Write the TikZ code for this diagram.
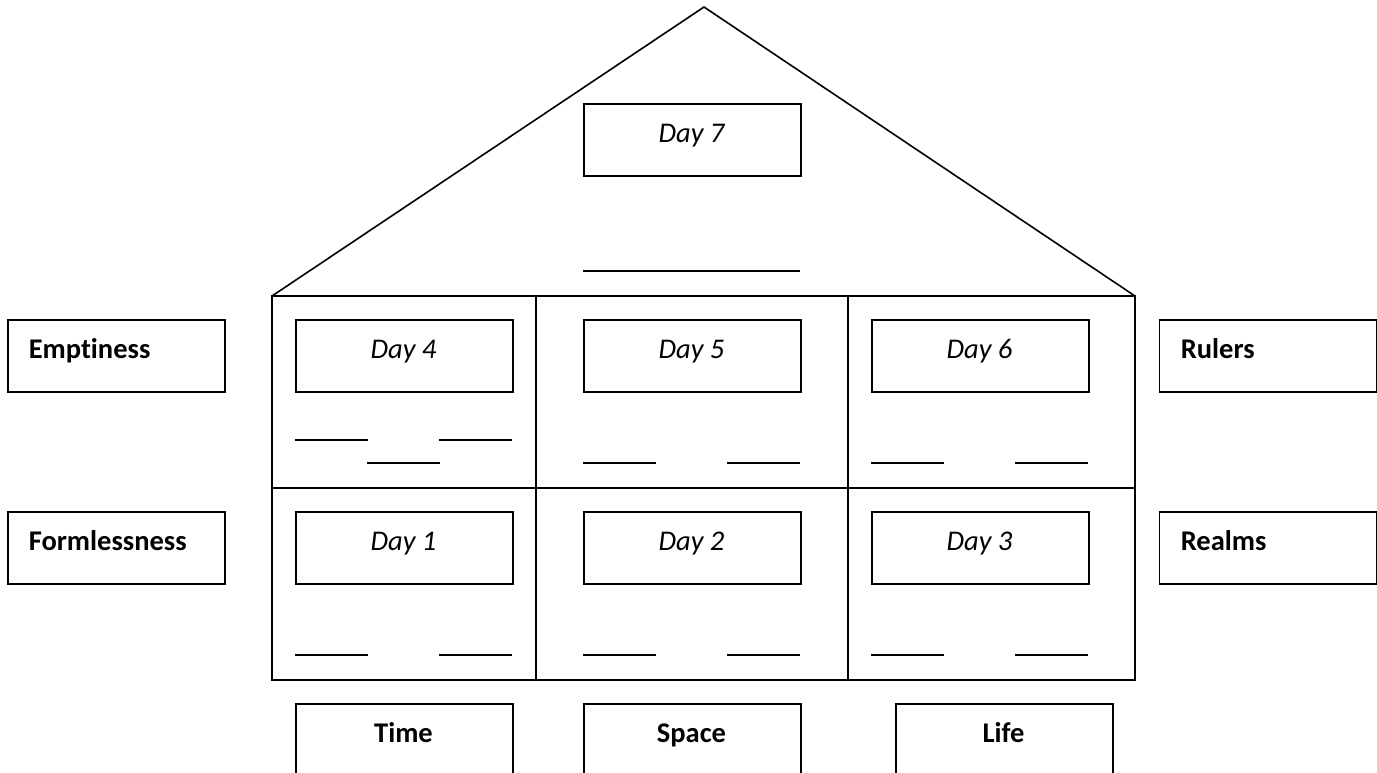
\documentclass[tikz,border=0pt]{standalone}
\usepackage{fontspec}
\setmainfont[Ligatures={NoCommon}]{Carlito}
\begin{document}
\begin{tikzpicture}[x=1pt,y=-1pt, line width=1.6pt,
  box/.style={draw, line width=1.6pt, minimum width=217pt, minimum height=72pt, inner sep=0pt, anchor=north west},
  daytext/.style={font=\fontsize{28.5}{34}\selectfont\itshape, anchor=base, inner sep=0pt},
  boldtext/.style={font=\fontsize{28.5}{34}\selectfont\bfseries, anchor=base, inner sep=0pt},
  sidetext/.style={font=\fontsize{28.5}{34}\selectfont\bfseries, anchor=base west, inner sep=0pt},
  blank/.style={line width=1.6pt}]
\clip (0,0) rectangle (1377,772);
% house
\coordinate (apex) at (704,7);
\coordinate (hl) at (272,296);
\coordinate (hr) at (1135,296);
\coordinate (br) at (1135,680);
\coordinate (ml) at (272,488);
\coordinate (mr) at (1135,488);
\coordinate (v1t) at (536,296);
\coordinate (v1b) at (536,680);
\coordinate (v2t) at (848,296);
\coordinate (v2b) at (848,680);
\draw (hl) -- (apex) -- (hr);
\draw (hl) rectangle (br);
\draw (ml) -- (mr);
\draw (v1t) -- (v1b);
\draw (v2t) -- (v2b);
% day 7
\node[box] (d7) at (583,103) {};
\node[daytext] (t7) at (691.5,142) {Day 7};
\coordinate (b7a) at (583,271); \coordinate (b7b) at (800,271);
\draw[blank] (b7a) -- (b7b);
% days 4-6
\node[box] (d4) at (295,319) {};
\node[daytext] (t4) at (403.5,358) {Day 4};
\node[box] (d5) at (583,319) {};
\node[daytext] (t5) at (691.5,358) {Day 5};
\node[box] (d6) at (871,319) {};
\node[daytext] (t6) at (979.5,358) {Day 6};
% days 1-3
\node[box] (d1) at (295,511) {};
\node[daytext] (t1) at (403.5,550) {Day 1};
\node[box] (d2) at (583,511) {};
\node[daytext] (t2) at (691.5,550) {Day 2};
\node[box] (d3) at (871,511) {};
\node[daytext] (t3) at (979.5,550) {Day 3};
% blanks upper row
\coordinate (a1) at (295,440); \coordinate (a2) at (368,440);
\coordinate (a3) at (439,440); \coordinate (a4) at (512,440);
\coordinate (a5) at (367,463); \coordinate (a6) at (440,463);
\draw[blank] (a1) -- (a2); \draw[blank] (a3) -- (a4); \draw[blank] (a5) -- (a6);
\coordinate (c1) at (583,463); \coordinate (c2) at (656,463);
\coordinate (c3) at (727,463); \coordinate (c4) at (800,463);
\draw[blank] (c1) -- (c2); \draw[blank] (c3) -- (c4);
\coordinate (e1) at (871,463); \coordinate (e2) at (944,463);
\coordinate (e3) at (1015,463); \coordinate (e4) at (1088,463);
\draw[blank] (e1) -- (e2); \draw[blank] (e3) -- (e4);
% blanks lower row
\coordinate (f1) at (295,655); \coordinate (f2) at (368,655);
\coordinate (f3) at (439,655); \coordinate (f4) at (512,655);
\draw[blank] (f1) -- (f2); \draw[blank] (f3) -- (f4);
\coordinate (g1) at (583,655); \coordinate (g2) at (656,655);
\coordinate (g3) at (727,655); \coordinate (g4) at (800,655);
\draw[blank] (g1) -- (g2); \draw[blank] (g3) -- (g4);
\coordinate (h1) at (871,655); \coordinate (h2) at (944,655);
\coordinate (h3) at (1015,655); \coordinate (h4) at (1088,655);
\draw[blank] (h1) -- (h2); \draw[blank] (h3) -- (h4);
% side boxes
\node[box] (emp) at (7,319) {};
\node[sidetext] (temp) at (28,358) {Emptiness};
\node[box] (form) at (7,511) {};
\node[sidetext] (tform) at (28,550) {Formlessness};
\node[box] (rul) at (1158.5,319) {};
\node[sidetext] (trul) at (1180,358) {Rulers};
\node[box] (rea) at (1158.5,511) {};
\node[sidetext] (trea) at (1180,550) {Realms};
% bottom boxes
\node[box] (time) at (295,703) {};
\node[boldtext] (ttime) at (403.5,742) {Time};
\node[box] (space) at (583,703) {};
\node[boldtext] (tspace) at (691.5,742) {Space};
\node[box] (life) at (895,703) {};
\node[boldtext] (tlife) at (1003.5,742) {Life};
\end{tikzpicture}
\end{document}
